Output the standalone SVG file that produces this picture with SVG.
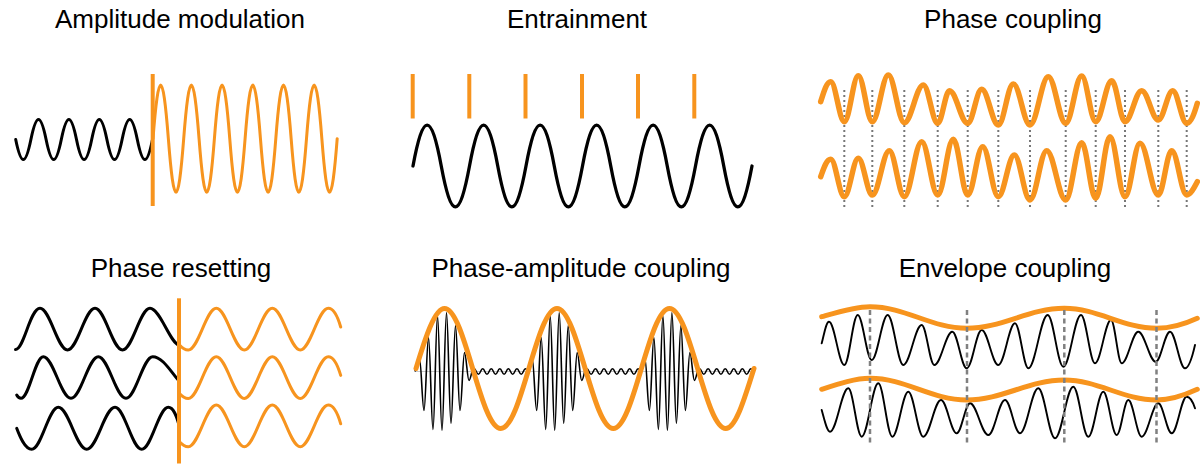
<svg xmlns="http://www.w3.org/2000/svg" xmlns:xlink="http://www.w3.org/1999/xlink" width="1200" height="467" viewBox="0 0 1200 467">
<style>
.title{font-family:"Liberation Sans",Arial,Helvetica,sans-serif;font-size:26px;text-anchor:middle;fill:#000}
.blk{fill:none;stroke:#000;stroke-width:3;stroke-linecap:round;stroke-linejoin:round}
.thin{fill:none;stroke:#000;stroke-width:1.9;stroke-linecap:round;stroke-linejoin:round}
.pac{fill:none;stroke:#000;stroke-width:1.6;stroke-linejoin:round}
.org{fill:none;stroke:#F7941E;stroke-width:3;stroke-linecap:round;stroke-linejoin:round}
.orgT{fill:none;stroke:#F7941E;stroke-width:5.5;stroke-linecap:round;stroke-linejoin:round}
.bar{stroke:#F7941E;stroke-width:4;fill:none}
.dot{stroke:#777;stroke-width:2;stroke-dasharray:2 3;fill:none}
.dash{stroke:#808080;stroke-width:2.5;stroke-dasharray:5 3.5;fill:none}
.base{stroke:#c8c8c8;stroke-width:1;fill:none}
</style>
<defs>
<path id="pacCycle" class="pac" d="M0,0 C1.5,-6.5 3,-13 4.5,-13 C6.14,-13 7.36,39 9,39 C10.64,39 11.86,-34 13.5,-34 C15.14,-34 16.36,58 18,58 C19.64,58 20.86,-56 22.5,-56 C24.14,-56 25.36,59 27,59 C28.64,59 29.86,-59 31.5,-59 C33.14,-59 34.36,52 36,52 C37.64,52 38.86,-46 40.5,-46 C42.14,-46 43.36,39 45,39 C46.64,39 47.86,-19 49.5,-19 C51.14,-19 52.36,9 54,9 C55.1,9 56,4 57,0 c1.54,-3.6 2.74,-3.6 4.28,0 s2.74,3.6 4.28,0 s2.74,-3.6 4.28,0 s2.74,3.6 4.28,0 s2.74,-3.6 4.28,0 s2.74,3.6 4.28,0 s2.74,-3.6 4.28,0 s2.74,3.6 4.28,0 s2.74,-3.6 4.28,0 s2.74,3.6 4.28,0 s2.74,-3.6 4.28,0 s2.74,3.6 4.28,0 s2.74,-3.6 4.28,0"/>
<path id="resetWave" class="org" d="M179,344.5 C182.5,348.5 185.5,350 188.3,350 C198.5,350 206.1,308.3 216.3,308.3 C226.5,308.3 234.1,350 244.3,350 C254.5,350 262.1,308.3 272.3,308.3 C282.5,308.3 290.1,350 300.3,350 C310.5,350 318.1,308.3 328.3,308.3 C333.5,308.3 337.5,316 340.7,327"/>
</defs>
<rect width="1200" height="467" fill="#fff"/>

<g id="amplitude-modulation">
<text class="title" x="180" y="27.5">Amplitude modulation</text>
<path class="blk" d="M15.7,139.5 c5.47,26.7 9.73,26.7 15.2,0 s9.73,-26.7 15.2,0 s9.73,26.7 15.2,0 s9.73,-26.7 15.2,0 s9.73,26.7 15.2,0 s9.73,-26.7 15.2,0 s9.73,26.7 15.2,0 s9.73,-26.7 15.2,0 s9.73,26.7 15.2,0"/>
<path class="org" d="M153,138.7 c5.53,-71.5 9.82,-71.5 15.35,0 s9.82,71.5 15.35,0 s9.82,-71.5 15.35,0 s9.82,71.5 15.35,0 s9.82,-71.5 15.35,0 s9.82,71.5 15.35,0 s9.82,-71.5 15.35,0 s9.82,71.5 15.35,0 s9.82,-71.5 15.35,0 s9.82,71.5 15.35,0 s9.82,-71.5 15.35,0 s9.82,71.5 15.35,0"/>
<line class="bar" x1="152.7" y1="74" x2="152.7" y2="206"/>
</g>

<g id="entrainment">
<text class="title" x="577" y="27.5">Entrainment</text>
<g class="bar">
<line x1="412.7" y1="74" x2="412.7" y2="118.5"/>
<line x1="469.3" y1="74" x2="469.3" y2="118.5"/>
<line x1="525.5" y1="74" x2="525.5" y2="118.5"/>
<line x1="582" y1="74" x2="582" y2="118.5"/>
<line x1="638" y1="74" x2="638" y2="118.5"/>
<line x1="694.3" y1="74" x2="694.3" y2="118.5"/>
</g>
<path class="blk" style="stroke-width:3.3" d="M413,166 c10.17,-54.4 18.08,-54.4 28.25,0 s18.08,54.4 28.25,0 s18.08,-54.4 28.25,0 s18.08,54.4 28.25,0 s18.08,-54.4 28.25,0 s18.08,54.4 28.25,0 s18.08,-54.4 28.25,0 s18.08,54.4 28.25,0 s18.08,-54.4 28.25,0 s18.08,54.4 28.25,0 s18.08,-54.4 28.25,0 s18.08,54.4 28.25,0"/>
</g>

<g id="phase-coupling">
<text class="title" x="1013" y="27.5">Phase coupling</text>
<g class="dot">
<line x1="844.3" y1="90" x2="844.3" y2="210"/>
<line x1="872.3" y1="90" x2="872.3" y2="210"/>
<line x1="904.3" y1="90" x2="904.3" y2="210"/>
<line x1="937.7" y1="90" x2="937.7" y2="210"/>
<line x1="967.7" y1="90" x2="967.7" y2="210"/>
<line x1="998.3" y1="90" x2="998.3" y2="210"/>
<line x1="1030" y1="90" x2="1030" y2="210"/>
<line x1="1065.7" y1="90" x2="1065.7" y2="210"/>
<line x1="1095.7" y1="90" x2="1095.7" y2="210"/>
<line x1="1125" y1="90" x2="1125" y2="210"/>
<line x1="1158.3" y1="90" x2="1158.3" y2="210"/>
<line x1="1186.7" y1="90" x2="1186.7" y2="210"/>
</g>
<path class="orgT" d="M820.7,101.7 C823.5,93 826.5,81.7 830.7,81.7 C835.65,81.7 839.35,121.7 844.3,121.7 C849.4,121.7 853.2,75.7 858.3,75.7 C863.4,75.7 867.2,121.7 872.3,121.7 C878.1,121.7 882.5,75 888.3,75 C894.1,75 898.5,122.7 904.3,122.7 C911.2,122.7 916.4,85 923.3,85 C928.5,85 932.5,123.3 937.7,123.3 C942,123.3 945.2,90.7 949.5,90.7 C956.1,90.7 961.1,123.3 967.7,123.3 C972.8,123.3 976.6,89.3 981.7,89.3 C987.7,89.3 992.3,125 998.3,125 C1003.8,125 1007.8,84 1013.3,84 C1019.4,84 1023.9,125 1030,125 C1036.7,125 1041.6,76.7 1048.3,76.7 C1054.6,76.7 1059.4,123.3 1065.7,123.3 C1071.5,123.3 1075.9,76 1081.7,76 C1086.8,76 1090.6,121.7 1095.7,121.7 C1101.5,121.7 1105.9,80.7 1111.7,80.7 C1116.5,80.7 1120.2,121.7 1125,121.7 C1131.1,121.7 1135.6,90.7 1141.7,90.7 C1147.7,90.7 1152.3,120 1158.3,120 C1163.5,120 1167.5,90.7 1172.7,90.7 C1177.8,90.7 1181.6,123.3 1186.7,123.3 C1191,123.3 1194.5,113 1197.3,103.3"/>
<path class="orgT" d="M820.7,176.7 C823.5,169 826.5,159.3 830.7,159.3 C835.65,159.3 839.35,196.7 844.3,196.7 C849.4,196.7 853.2,158.3 858.3,158.3 C863.4,158.3 867.2,195 872.3,195 C878.5,195 883.1,150.7 889.3,150.7 C894.8,150.7 898.8,196.7 904.3,196.7 C910.6,196.7 915.4,141.7 921.7,141.7 C927.5,141.7 931.9,195 937.7,195 C943.4,195 947.6,139.3 953.3,139.3 C958.5,139.3 962.5,195 967.7,195 C973.2,195 977.2,146.7 982.7,146.7 C988.4,146.7 992.6,196.7 998.3,196.7 C1004.1,196.7 1008.5,155 1014.3,155 C1020,155 1024.3,200 1030,200 C1036.1,200 1040.6,150.7 1046.7,150.7 C1053.6,150.7 1058.8,200 1065.7,200 C1071.5,200 1075.9,142.7 1081.7,142.7 C1086.8,142.7 1090.6,198.3 1095.7,198.3 C1100.9,198.3 1104.8,136.7 1110,136.7 C1115.5,136.7 1119.5,196.7 1125,196.7 C1130.5,196.7 1134.5,143.3 1140,143.3 C1146.7,143.3 1151.6,195 1158.3,195 C1163.2,195 1166.8,150.7 1171.7,150.7 C1177.2,150.7 1181.2,195 1186.7,195 C1190.5,195 1194,188 1197.3,181.7"/>
</g>

<g id="phase-resetting">
<text class="title" x="181" y="277">Phase resetting</text>
<path class="blk" d="M15.5,349.5 C24,349.5 30,308.3 40,308.3 C50,308.3 57.5,350 67.5,350 C77.5,350 85,308.3 95,308.3 C105,308.3 112.5,350 122.5,350 C132.5,350 140,308.3 150,308.3 C160,308.3 170,343 179,345"/>
<path class="blk" d="M16.7,395 C18,397.5 19.5,398.3 21,398.3 C29.1,398.3 35.2,356.7 43.3,356.7 C53.4,356.7 60.9,398.3 71,398.3 C80.9,398.3 88.4,356.7 98.3,356.7 C108.4,356.7 115.9,398.3 126,398.3 C135.7,398.3 143,356.7 152.7,356.7 C162.5,356.7 171,372 179,381"/>
<path class="blk" d="M16.7,428.3 C20,437 25,449.3 31.7,449.3 C41.4,449.3 48.6,407.3 58.3,407.3 C68.6,407.3 76.4,449.3 86.7,449.3 C97,449.3 104.7,407.3 115,407.3 C124.7,407.3 132,449.3 141.7,449.3 C151.4,449.3 158.6,407.3 168.3,407.3 C173.5,407.3 176.5,416 179,425"/>
<use xlink:href="#resetWave" href="#resetWave"/>
<use xlink:href="#resetWave" href="#resetWave" transform="translate(0,48.4)"/>
<use xlink:href="#resetWave" href="#resetWave" transform="translate(0,96.8)"/>
<line class="bar" x1="179" y1="298.3" x2="179" y2="463.5"/>
</g>

<g id="phase-amplitude-coupling">
<text class="title" x="581" y="277">Phase-amplitude coupling</text>
<line class="base" x1="415" y1="371.5" x2="755" y2="371.5"/>
<use xlink:href="#pacCycle" href="#pacCycle" transform="translate(415,371.5)"/>
<use xlink:href="#pacCycle" href="#pacCycle" transform="translate(527.7,371.5)"/>
<use xlink:href="#pacCycle" href="#pacCycle" transform="translate(640.4,371.5)"/>
<path class="orgT" style="stroke-width:5" d="M416,368.5 C425.3,337.8 434.7,308.5 444.5,308.5 C465,308.5 480.3,428.5 500.8,428.5 C521.3,428.5 536.5,308.5 557,308.5 C577.5,308.5 592.8,428.5 613.3,428.5 C633.8,428.5 649,308.5 669.5,308.5 C690,308.5 705.3,428.5 725.8,428.5 C736,428.5 744.8,397.2 754,368.5"/>
</g>

<g id="envelope-coupling">
<text class="title" x="1005" y="277">Envelope coupling</text>
<path class="thin" d="M821.7,343.3 C824,335 826,321.7 829,321.7 C834.6,321.7 838.7,365 844.3,365 C849.2,365 852.8,315 857.7,315 C862.8,315 866.6,360 871.7,360 C877.5,360 881.9,315 887.7,315 C893.4,315 897.6,365 903.3,365 C910,365 915,325 921.7,325 C926.3,325 929.7,365 934.3,365 C940.9,365 945.8,331.7 952.3,331.7 C957.5,331.7 961.5,368.3 966.7,368.3 C972.2,368.3 976.2,330 981.7,330 C987.7,330 992.3,365 998.3,365 C1004.4,365 1008.9,323.3 1015,323.3 C1019.8,323.3 1023.5,368.3 1028.3,368.3 C1035.4,368.3 1040.6,315 1047.7,315 C1053.4,315 1057.6,366.7 1063.3,366.7 C1069.7,366.7 1074.6,315 1081,315 C1086.1,315 1089.9,363.3 1095,363.3 C1100.8,363.3 1105.2,320 1111,320 C1114.9,320 1117.8,363.3 1121.7,363.3 C1127.7,363.3 1132.3,331.7 1138.3,331.7 C1144.6,331.7 1149.4,361.7 1155.7,361.7 C1160.9,361.7 1164.8,331.7 1170,331.7 C1175.5,331.7 1179.5,368.3 1185,368.3 C1189,368.3 1192.5,356 1195,345"/>
<path class="thin" d="M821.7,410 C824.5,420 827,431.7 830,431.7 C836.7,431.7 841.6,388.3 848.3,388.3 C853.2,388.3 856.8,436.7 861.7,436.7 C867.7,436.7 872.3,383.3 878.3,383.3 C883.4,383.3 887.2,436.7 892.3,436.7 C898.1,436.7 902.5,391.7 908.3,391.7 C913.8,391.7 917.8,436.7 923.3,436.7 C929.7,436.7 934.6,400 941,400 C946.7,400 951,433.3 956.7,433.3 C961.5,433.3 965.2,403.3 970,403.3 C976.7,403.3 981.6,435 988.3,435 C994.4,435 998.9,400 1005,400 C1010.5,400 1014.5,433.3 1020,433.3 C1026.7,433.3 1031.6,388.3 1038.3,388.3 C1044.4,388.3 1048.9,438.3 1055,438.3 C1061.7,438.3 1066.6,386.7 1073.3,386.7 C1078.8,386.7 1082.8,436.7 1088.3,436.7 C1093.8,436.7 1097.8,391.7 1103.3,391.7 C1108.2,391.7 1111.8,435 1116.7,435 C1120.9,435 1124.1,400 1128.3,400 C1133.2,400 1136.8,436.7 1141.7,436.7 C1147.7,436.7 1152.3,403.3 1158.3,403.3 C1163.2,403.3 1166.8,433.3 1171.7,433.3 C1177.2,433.3 1181.2,396.7 1186.7,396.7 C1190,396.7 1193,402 1195,408.3"/>
<path class="orgT" style="stroke-width:5" d="M821.7,316.7 C838,312 855,306.7 870,306.7 C905.2,306.7 931.5,328.3 966.7,328.3 C1002.2,328.3 1028.8,308.3 1064.3,308.3 C1097.9,308.3 1123.1,328.3 1156.7,328.3 C1170,328.3 1185,324 1197.3,318.3"/>
<path class="orgT" style="stroke-width:5" d="M821.7,389.3 C838,384 855,378.3 870,378.3 C905.2,378.3 931.5,400 966.7,400 C1002.2,400 1028.8,380 1064.3,380 C1097.9,380 1123.1,400 1156.7,400 C1170,400 1185,395 1197.3,389.3"/>
<g class="dash">
<line x1="870" y1="310" x2="870" y2="445"/>
<line x1="967" y1="310" x2="967" y2="445"/>
<line x1="1064.3" y1="310" x2="1064.3" y2="445"/>
<line x1="1156.5" y1="310" x2="1156.5" y2="445"/>
</g>
</g>
</svg>
